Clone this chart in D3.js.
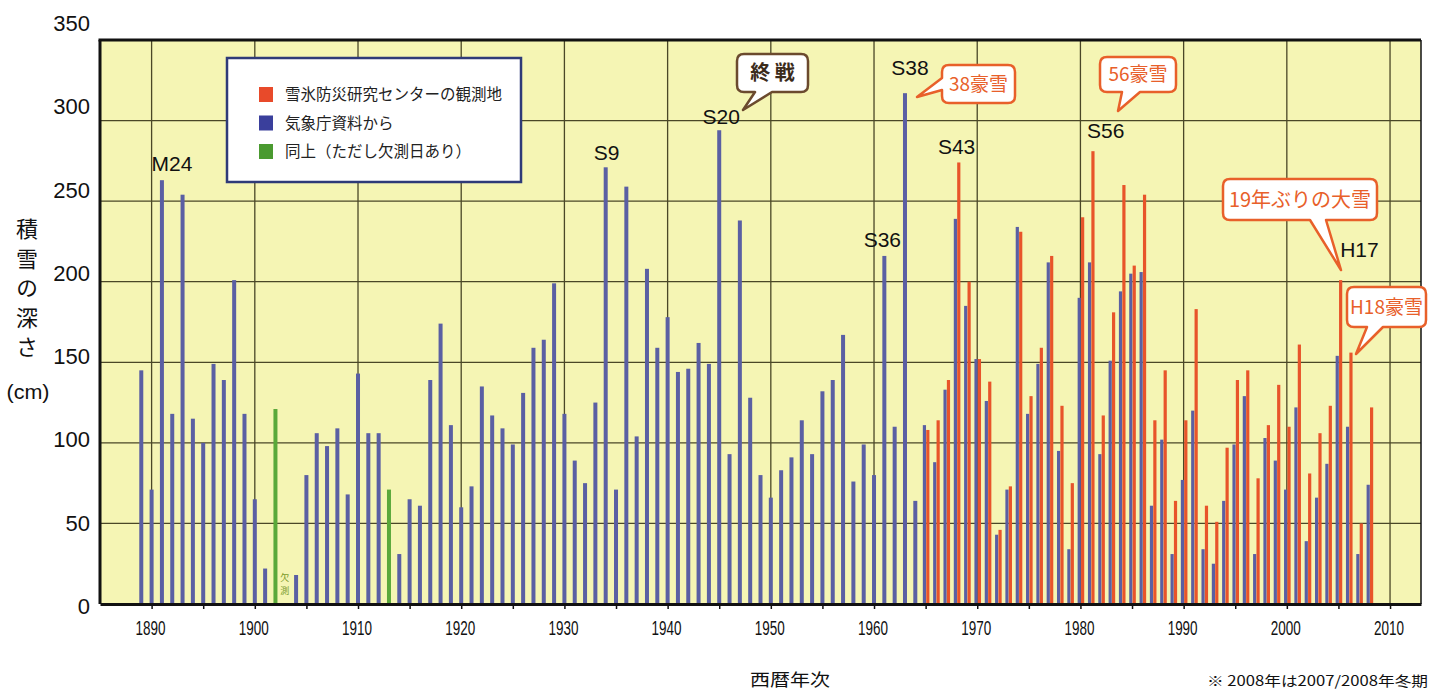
<!DOCTYPE html>
<html>
<head>
<meta charset="utf-8">
<script src="https://cdn.jsdelivr.net/npm/d3@7"></script>
<style>
  body { margin: 0; background: #fff; }
  text { font-family: "Liberation Sans", Arial, sans-serif; }
  .jp { font-family: "Noto Sans CJK JP", sans-serif; }
</style>
</head>
<body>
<div id="chart-area"></div>
<script>
// 気象庁資料 1889-2008 (null = 欠測)
const jmaYears = d3.range(1889, 2009);
const jmaDepth = [
  145, 71, 263, 118, 254, 115, 100, 149, 139, 201,
  118, 65, 22, 121, null, 18, 80, 106, 98, 109,
  68, 143, 106, 106, 71, 31, 65, 61, 139, 174,
  111, 60, 73, 135, 117, 109, 99, 131, 159, 164,
  199, 118, 89, 75, 125, 271, 71, 259, 104, 208,
  159, 178, 144, 146, 162, 149, 294, 93, 238, 128,
  80, 66, 83, 91, 114, 93, 132, 139, 167, 76,
  99, 80, 216, 110, 317, 64, 111, 88, 133, 239,
  185, 152, 126, 43, 71, 234, 118, 149, 212, 95,
  34, 190, 212, 93, 151, 194, 205, 206, 61, 102,
  31, 77, 120, 34, 25, 64, 99, 129, 31, 103,
  89, 71, 122, 39, 66, 87, 154, 110, 31, 74
];
// 同上（ただし欠測日あり）
const greenYears = [1902, 1913];
// 雪氷防災研究センターの観測地 1965-2008
const centerYears = d3.range(1965, 2009);
const centerDepth = [
  108, 114, 139, 274, 200, 152, 138, 46, 73, 231,
  129, 159, 216, 123, 75, 240, 281, 117, 181, 260,
  210, 254, 114, 145, 64, 114, 183, 61, 51, 97,
  139, 145, 78, 111, 136, 110, 161, 81, 106, 123,
  201, 156, 50, 122
];
const yTicks = [0, 50, 100, 150, 200, 250, 300, 350];
const xTicks = [1890, 1900, 1910, 1920, 1930, 1940, 1950, 1960, 1970, 1980, 1990, 2000, 2010];
const eraLabels = ["M24", "S9", "S20", "S36", "S38", "S43", "S56", "H17"];
const eraYears = [1891, 1934, 1945, 1961, 1963, 1968, 1981, 2005];

const colBlue = "#5a5fa3", colRed = "#e8542a", colGreen = "#5aa83a";

const width = 1435, height = 691;
const x = d3.scaleLinear().domain([1885, 2013]).range([100, 1421]);
const y = d3.scaleLinear().domain([0, 350]).range([604, 40]);
// the printed tick labels drift upward relative to the gridlines
const yLab = d3.scaleLinear().domain([0, 350]).range([606, 23]);

const svg = d3.select("#chart-area").append("svg")
    .attr("width", width)
    .attr("height", height);

// plot background
svg.append("rect")
    .attr("x", x(1885)).attr("y", y(350))
    .attr("width", x(2013) - x(1885)).attr("height", y(0) - y(350))
    .attr("fill", "#f5f5b4");

// gridlines
svg.append("g").selectAll("line").data(xTicks).join("line")
    .attr("x1", d => x(d)).attr("x2", d => x(d))
    .attr("y1", y(350)).attr("y2", y(0))
    .attr("stroke", "#4a4727").attr("stroke-width", 1.3);
svg.append("g").selectAll("line").data(yTicks.slice(1, -1)).join("line")
    .attr("x1", x(1885)).attr("x2", x(2013))
    .attr("y1", d => y(d)).attr("y2", d => y(d))
    .attr("stroke", "#4a4727").attr("stroke-width", 1.3);

// JMA bars
const jma = jmaYears.map((yr, i) => ({ year: yr, depth: jmaDepth[i] }))
    .filter(d => d.depth !== null);
const paired = new Set(centerYears);
svg.append("g").selectAll("rect").data(jma).join("rect")
    .attr("x", d => paired.has(d.year) ? x(d.year) - 2.8 : x(d.year) - 2)
    .attr("width", d => paired.has(d.year) ? 3.2 : 4)
    .attr("y", d => y(d.depth))
    .attr("height", d => y(0) - y(d.depth))
    .attr("fill", d => greenYears.includes(d.year) ? colGreen : colBlue);

// center bars
const center = centerYears.map((yr, i) => ({ year: yr, depth: centerDepth[i] }));
svg.append("g").selectAll("rect").data(center).join("rect")
    .attr("x", d => x(d.year) + 0.6)
    .attr("width", 3.2)
    .attr("y", d => y(d.depth))
    .attr("height", d => y(0) - y(d.depth))
    .attr("fill", colRed);

// 欠測 mark
["欠", "測"].forEach((c, i) => {
    svg.append("text").attr("class", "jp")
        .attr("x", x(1903) - 1).attr("y", y(0) - 23 + i * 13)
        .attr("text-anchor", "middle").attr("font-size", 9)
        .attr("fill", "#7a9a2a")
        .text(c);
});

// frame
svg.append("line").attr("x1", x(1885) - 1.5).attr("x2", x(2013)).attr("y1", y(350)).attr("y2", y(350))
    .attr("stroke", "#111").attr("stroke-width", 3);
svg.append("line").attr("x1", x(2013)).attr("x2", x(2013)).attr("y1", y(350)).attr("y2", y(0))
    .attr("stroke", "#111").attr("stroke-width", 1.5);
svg.append("line").attr("x1", x(1885)).attr("x2", x(1885)).attr("y1", y(350)).attr("y2", y(0))
    .attr("stroke", "#111").attr("stroke-width", 3);

// X axis
const xAxisGroup = svg.append("g")
    .attr("transform", "translate(0," + y(0) + ")")
    .call(d3.axisBottom(x).tickValues(d3.range(1890, 2011, 5)).tickSize(5).tickSizeOuter(0).tickFormat(""));
xAxisGroup.select(".domain").attr("stroke", "#111").attr("stroke-width", 3);
xAxisGroup.selectAll(".tick line").attr("stroke", "#111").attr("stroke-width", 1.5);

svg.append("g").selectAll("text").data(xTicks).join("text")
    .attr("x", d => x(d) - 1).attr("y", 635)
    .attr("text-anchor", "middle").attr("font-size", 20)
    .attr("textLength", 30).attr("lengthAdjust", "spacingAndGlyphs")
    .attr("fill", "#111")
    .text(d => d);

// Y labels
svg.append("g").selectAll("text").data(yTicks).join("text")
    .attr("x", 90).attr("y", d => yLab(d) + 8)
    .attr("text-anchor", "end").attr("font-size", 22)
    .attr("fill", "#111")
    .text(d => d);

// Y title (vertical)
svg.append("text").attr("class", "jp")
    .attr("x", 27).attr("y", 218)
    .style("writing-mode", "vertical-rl")
    .style("text-orientation", "upright")
    .attr("font-size", 22)
    .attr("letter-spacing", 7.5)
    .attr("fill", "#111")
    .text("積雪の深さ");
svg.append("text")
    .attr("x", 28).attr("y", 399)
    .attr("text-anchor", "middle").attr("font-size", 20)
    .attr("textLength", 43).attr("lengthAdjust", "spacingAndGlyphs")
    .attr("fill", "#111")
    .text("(cm)");

// X title and note
svg.append("text").attr("class", "jp")
    .attr("x", 790).attr("y", 686)
    .attr("text-anchor", "middle").attr("font-size", 17)
    .attr("textLength", 80).attr("lengthAdjust", "spacingAndGlyphs")
    .attr("fill", "#111")
    .text("西暦年次");
svg.append("text").attr("class", "jp")
    .attr("x", 1428).attr("y", 686)
    .attr("text-anchor", "end").attr("font-size", 14)
    .attr("textLength", 221).attr("lengthAdjust", "spacingAndGlyphs")
    .attr("fill", "#111")
    .text("※ 2008年は2007/2008年冬期");

// era labels
const eraOffset = { M24: [10, -9], S9: [1, -7], S20: [2, -6], S36: [-2, -9], S38: [5, -18], S43: [0, -8], S56: [15, -13], H17: [21, -23] };
const eraDepth = [263, 271, 294, 216, 317, 274, 281, 201];
svg.append("g").selectAll("text").data(eraLabels).join("text")
    .attr("x", (d, i) => x(eraYears[i]) + eraOffset[d][0])
    .attr("y", (d, i) => y(eraDepth[i]) + eraOffset[d][1])
    .attr("text-anchor", "middle").attr("font-size", 21)
    .attr("fill", "#111")
    .text(d => d);

// callouts
function callout(bx, by, w, h, side, t1, t2, tip, label, stroke, fill, fs, weight) {
    const r = 7;
    let p = `M${bx + r},${by} H${bx + w - r} Q${bx + w},${by} ${bx + w},${by + r} V${by + h - r} Q${bx + w},${by + h} ${bx + w - r},${by + h}`;
    if (side === "bottom") {
        p += ` H${t2} L${tip[0]},${tip[1]} L${t1},${by + h} H${bx + r} Q${bx},${by + h} ${bx},${by + h - r} V${by + r}`;
    } else {
        p += ` H${bx + r} Q${bx},${by + h} ${bx},${by + h - r} V${t2} L${tip[0]},${tip[1]} L${bx},${t1} V${by + r}`;
    }
    p += ` Q${bx},${by} ${bx + r},${by} Z`;
    svg.append("path").attr("d", p)
        .attr("fill", "#fff").attr("stroke", stroke).attr("stroke-width", 2.5)
        .attr("stroke-linejoin", "round");
    svg.append("text").attr("class", "jp")
        .attr("x", bx + w / 2).attr("y", by + h / 2 + fs * 0.36)
        .attr("text-anchor", "middle").attr("font-size", fs)
        .attr("font-weight", weight)
        .attr("fill", fill)
        .text(label);
}
callout(737, 54, 71, 38, "bottom", 755, 772, [743, 110], "終 戦", "#6b4a2e", "#3b2b1b", 20, "bold");
callout(942, 65, 73, 38, "left", 78, 90, [917, 97], "38豪雪", "#e8602a", "#e8602a", 19, "normal");
callout(1100, 57, 76, 35, "bottom", 1122, 1140, [1118, 111], "56豪雪", "#e8602a", "#e8602a", 19, "normal");
callout(1223, 179, 154, 41, "bottom", 1310, 1326, [1341, 270], "19年ぶりの大雪", "#e8602a", "#e8602a", 20, "normal");
callout(1347, 287, 79, 40, "bottom", 1367, 1383, [1356, 354], "H18豪雪", "#e8602a", "#e8602a", 19, "normal");

// legend
const legendLabels = ["雪氷防災研究センターの観測地", "気象庁資料から", "同上（ただし欠測日あり）"];
const legendColors = ["#e84a2a", "#3a3f9c", "#4a9a30"];
const legend = svg.append("g").attr("transform", "translate(227,58)");
legend.append("rect").attr("width", 294).attr("height", 124)
    .attr("fill", "#fff").attr("stroke", "#2e3a78").attr("stroke-width", 2.5);
legend.selectAll("rect.sw").data(legendColors).join("rect")
    .attr("class", "sw")
    .attr("x", 32).attr("y", (d, i) => 29 + i * 28.5)
    .attr("width", 14).attr("height", 15)
    .attr("fill", d => d);
legend.selectAll("text").data(legendLabels).join("text")
    .attr("class", "jp")
    .attr("x", 58).attr("y", (d, i) => 42 + i * 28.5)
    .attr("font-size", 15.5)
    .attr("fill", "#222")
    .text(d => d);
</script>
</body>
</html>
